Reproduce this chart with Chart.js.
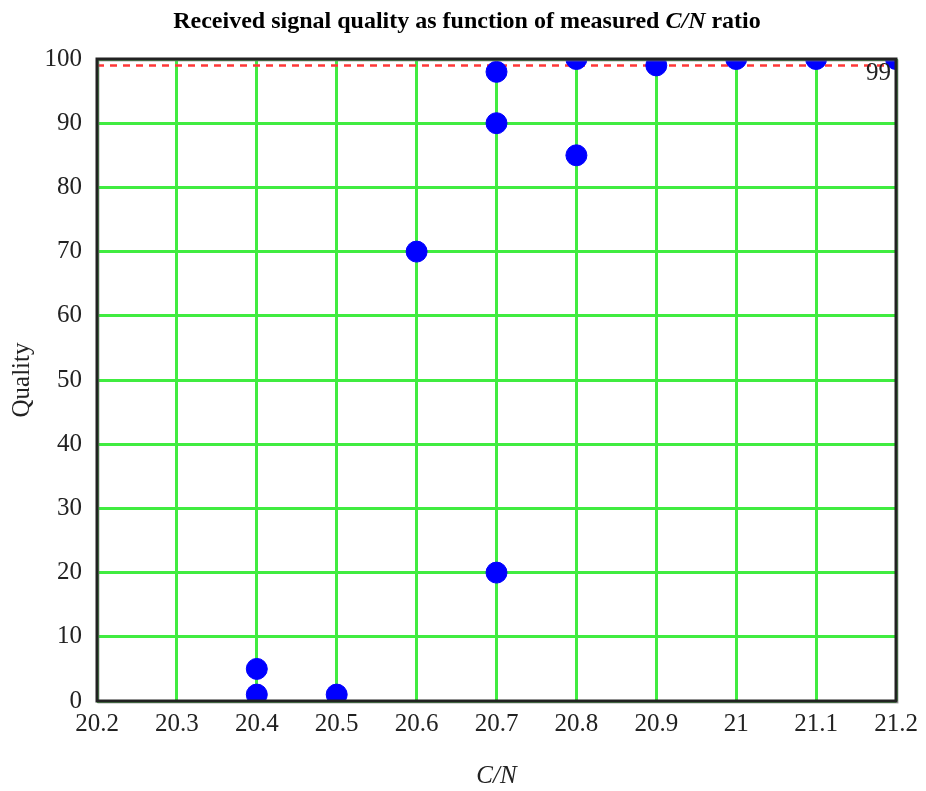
<!DOCTYPE html>
<html>
<head>
<meta charset="utf-8">
<script src="https://cdn.jsdelivr.net/npm/chart.js@4/dist/chart.umd.min.js"></script>
<style>
html,body{margin:0;padding:0;background:#fff;}
#wrap{position:relative;width:926px;height:791px;}
</style>
</head>
<body>
<div id="wrap"><canvas id="c" width="926" height="791"></canvas></div>
<script>
// Data
const cnValues = [20.4, 20.4, 20.5, 20.6, 20.7, 20.7, 20.7, 20.8, 20.8, 20.9, 21.0, 21.1, 21.2];
const qualityValues = [5, 1, 1, 70, 20, 90, 98, 100, 85, 99, 100, 100, 100];
const thresholdValue = 99;
const xRange = [20.2, 21.2];
const yRange = [0, 100];
const titleParts = [
  {text: 'Received signal quality as function of measured ', italic: false},
  {text: 'C/N', italic: true},
  {text: ' ratio', italic: false}
];
const xTitle = 'C/N';
const yTitle = 'Quality';

const SERIF = '"Liberation Serif", "DejaVu Serif", serif';

const points = cnValues.map((x, i) => ({x: x, y: qualityValues[i]}));
const thresholdLine = [{x: xRange[0], y: thresholdValue}, {x: xRange[1], y: thresholdValue}];

const framePlugin = {
  id: 'frame',
  beforeDraw(chart) {
    const ctx = chart.ctx;
    ctx.save();
    ctx.fillStyle = '#fff';
    ctx.fillRect(0, 0, chart.width, chart.height);
    // title with mixed styles
    ctx.fillStyle = '#000';
    ctx.textBaseline = 'middle';
    let total = 0;
    const fonts = titleParts.map(p => (p.italic ? 'italic ' : '') + 'bold 24px ' + SERIF);
    titleParts.forEach((p, i) => { ctx.font = fonts[i]; total += ctx.measureText(p.text).width; });
    let x = 467 - total / 2;
    titleParts.forEach((p, i) => {
      ctx.font = fonts[i];
      ctx.textAlign = 'left';
      ctx.fillText(p.text, x, 22);
      x += ctx.measureText(p.text).width;
    });
    ctx.restore();
  },
  afterDatasetsDraw(chart) {
    const {ctx, chartArea: a, scales} = chart;
    ctx.save();
    // threshold label
    ctx.font = '25px ' + SERIF;
    ctx.fillStyle = '#222';
    ctx.textAlign = 'right';
    ctx.textBaseline = 'top';
    ctx.fillText(String(thresholdValue), a.right - 5, scales.y.getPixelForValue(thresholdValue) - 4);
    // frame
    ctx.strokeStyle = 'rgba(120,120,120,0.6)';
    ctx.lineWidth = 2;
    ctx.strokeRect(a.left + 1.5, a.top + 1.5, a.right - a.left, a.bottom - a.top);
    ctx.strokeStyle = '#222';
    ctx.lineWidth = 3;
    ctx.strokeRect(a.left, a.top, a.right - a.left, a.bottom - a.top);
    ctx.restore();
  }
};

new Chart(document.getElementById('c'), {
  type: 'scatter',
  data: {
    datasets: [
      {
        type: 'line',
        data: thresholdLine,
        borderColor: '#ff3838',
        borderWidth: 2.5,
        borderDash: [7, 6],
        pointRadius: 0,
        fill: false,
        clip: 0,
        order: 2
      },
      {
        data: points,
        backgroundColor: '#0000ff',
        borderColor: '#0000ff',
        pointRadius: 10.5,
        pointHoverRadius: 10.5,
        clip: 0,
        order: 1
      }
    ]
  },
  options: {
    responsive: false,
    animation: false,
    events: [],
    layout: {padding: {left: 0, right: 30, top: 59, bottom: 0}},
    plugins: {legend: {display: false}, tooltip: {enabled: false}},
    scales: {
      x: {
        type: 'linear',
        min: xRange[0],
        max: xRange[1],
        afterFit(s) { s.height = 90; },
        ticks: {
          stepSize: 0.1,
          padding: 8,
          color: '#222',
          font: {family: SERIF, size: 25},
          maxRotation: 0,
          autoSkip: false,
          callback: v => String(Number(v.toFixed(1)))
        },
        grid: {color: '#40ec40', lineWidth: 3, drawTicks: false},
        border: {display: false},
        title: {
          display: true,
          text: xTitle,
          color: '#222',
          font: {family: SERIF, size: 25, style: 'italic'},
          padding: {top: 0, bottom: 0}
        }
      },
      y: {
        min: yRange[0],
        max: yRange[1],
        afterFit(s) { s.width = 97; },
        ticks: {
          stepSize: 10,
          padding: 15,
          color: '#222',
          font: {family: SERIF, size: 25}
        },
        grid: {color: '#40ec40', lineWidth: 3, drawTicks: false},
        border: {display: false},
        title: {
          display: true,
          text: yTitle,
          color: '#222',
          font: {family: SERIF, size: 25},
          padding: {top: 7, bottom: 0}
        }
      }
    }
  },
  plugins: [framePlugin]
});
</script>
</body>
</html>
